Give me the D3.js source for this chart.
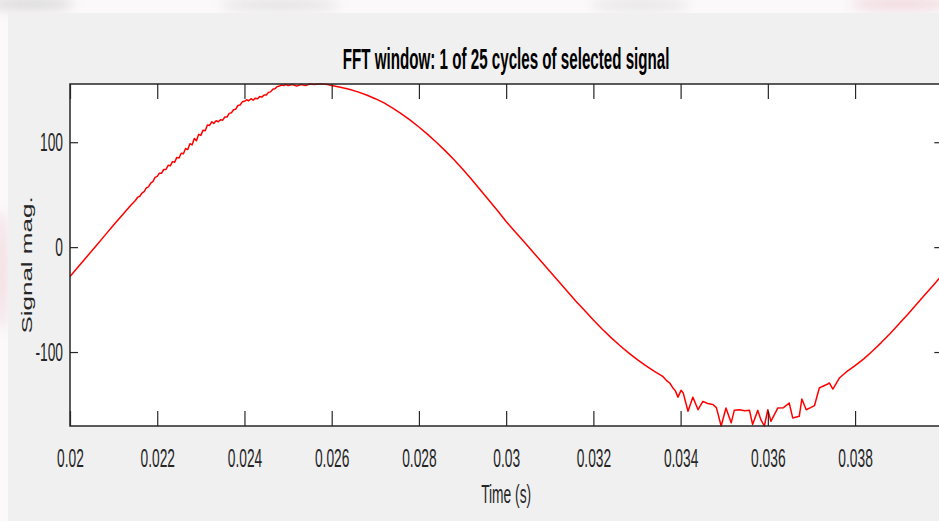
<!DOCTYPE html>
<html><head><meta charset="utf-8">
<script src="https://cdn.jsdelivr.net/npm/d3@7"></script>
<style>
html,body{margin:0;padding:0;background:#fbf9fa;overflow:hidden}
svg{display:block}
</style></head><body>
<svg id="chart" width="939" height="521"></svg>
<script>
// ---------- data ----------
const titleText = "FFT window: 1 of 25 cycles of selected signal";
const xLabelText = "Time (s)";
const yLabelText = "Signal mag.";
const xTicks = [0.02, 0.022, 0.024, 0.026, 0.028, 0.03, 0.032, 0.034, 0.036, 0.038];
const xTickLabels = ["0.02", "0.022", "0.024", "0.026", "0.028", "0.03", "0.032", "0.034", "0.036", "0.038"];
const yTicks = [-100, 0, 100];
const yTickLabels = ["-100", "0", "100"];
const xDomain = [0.02, 0.04];

const timeS = [
  0.0200, 0.0202, 0.0204, 0.0206, 0.0208, 0.0210, 0.0212, 0.0214,
  0.02150, 0.02155, 0.02160, 0.02165, 0.02170, 0.02175, 0.02180, 0.02185, 0.02190, 0.02195,
  0.02200, 0.02205, 0.02210, 0.02215, 0.02220, 0.02225, 0.02230, 0.02235, 0.02240, 0.02245,
  0.02250, 0.02255, 0.02260, 0.02265, 0.02270, 0.02275, 0.02280, 0.02285, 0.02290, 0.02295,
  0.02300, 0.02305, 0.02310, 0.02315, 0.02320, 0.02325, 0.02330, 0.02335, 0.02340, 0.02345,
  0.02350, 0.02355, 0.02360, 0.02365, 0.02370, 0.02375, 0.02380, 0.02385, 0.02390, 0.02395,
  0.02400, 0.02405, 0.02410, 0.02415, 0.02420, 0.02425, 0.02430, 0.02435, 0.02440, 0.02445,
  0.02450, 0.02455, 0.02460, 0.02465, 0.02470, 0.02475, 0.02480, 0.02485, 0.02490, 0.02495,
  0.02500,
  0.0251, 0.0252, 0.0253, 0.0254, 0.0255, 0.0256, 0.0257, 0.0258, 0.0259, 0.0260,
  0.0262, 0.0264, 0.0266, 0.0268, 0.0270, 0.0272, 0.0274, 0.0276, 0.0278, 0.0280,
  0.0282, 0.0284, 0.0286, 0.0288, 0.0290, 0.0292, 0.0294, 0.0296, 0.0298, 0.0300,
  0.0302, 0.0304, 0.0306, 0.0308, 0.0310, 0.0312, 0.0314, 0.0316, 0.0318, 0.0320,
  0.0322, 0.0324, 0.0326, 0.0328, 0.0330, 0.0332, 0.0334,
  0.0336, 0.03365, 0.0337, 0.03375, 0.03382, 0.03388, 0.03394, 0.03401, 0.03406, 0.03417,
  0.03428, 0.0344, 0.03451, 0.03462, 0.03474, 0.03482, 0.03493, 0.03504, 0.03516, 0.03523,
  0.03535, 0.03547, 0.03558, 0.03565, 0.03577, 0.03584, 0.03592, 0.0360, 0.03607, 0.03623,
  0.03636, 0.03649, 0.03657, 0.03672, 0.03678, 0.03688, 0.03698, 0.03707, 0.03718, 0.03725,
  0.03735, 0.03741, 0.03749, 0.03764,
  0.0378, 0.0380, 0.0382, 0.0384, 0.0386, 0.0388, 0.0390, 0.0392, 0.0394, 0.0396, 0.0398, 0.0400
];
const signal = [
  -28, -18.2, -8.4, 1.4, 11.2, 21, 30.6, 40.2,
  44.5, 47.5, 48.5, 51.5, 53, 56.5, 57.5, 61, 62.5, 66.5,
  67.5, 70.5, 70.5, 74, 74, 78, 77.5, 81.5, 81, 85.5,
  85, 89.5, 89, 94, 93, 98.5, 97.5, 103.5, 101.5, 107.5,
  106.5, 111.5, 111, 116.5, 116, 119.5, 118, 120.5, 119.5, 121.5,
  121, 124, 124, 127.5, 128, 131, 131.5, 135, 135.5, 138.5,
  139, 140.5, 139.5, 141.5, 140, 142, 141.5, 143.5, 143, 145,
  145, 147.5, 148, 150.5, 151, 153, 153.5, 154.5, 154, 155,
  154,
  155, 153.5, 155, 154, 155.5, 155, 155.5, 155.5, 155, 154,
  152.5, 150.5, 148, 145, 141.5, 137.5, 132.5, 127, 121, 114.5,
  107.5, 100, 92, 83.5, 74.5, 65, 55, 45, 35, 24.5,
  15, 5.5, -4, -13.5, -23, -32.5, -42, -51.5, -60.5, -69.5,
  -78, -86, -93.5, -100.5, -107, -113, -118.5,
  -123.5, -126, -128, -129.5, -134, -137, -143, -136.5, -139, -156.5,
  -143, -155, -147, -149, -150, -153, -170.5, -153.3, -167.5, -155.6,
  -155, -156, -155.6, -169, -155.6, -164.5, -170.5, -155, -166, -153.3,
  -153, -148.6, -162.8, -161.3, -144.8, -155, -153, -151, -134.3, -132.8,
  -131, -129.5, -135.3, -124.8,
  -119, -113, -106.5, -99, -91, -82.5, -73.5, -64.5, -55, -45.5, -36, -26.5
];

// ---------- layout ----------
const W = 939, H = 521;
const plot = {left: 70, right: 942.3, top: 84, bottom: 426};
const SX = 0.53;            // horizontal text compression seen in the reference
const FONT = "'Liberation Sans', Arial, Helvetica, sans-serif";
const INK = "#262626";

const svg = d3.select("#chart");

// soft blurred backdrop visible around the figure panel
const defs = svg.append("defs");
defs.append("filter").attr("id", "blur").append("feGaussianBlur").attr("stdDeviation", 6);
const deco = svg.append("g").attr("filter", "url(#blur)").attr("opacity", 0.55);
deco.append("ellipse").attr("cx", 30).attr("cy", 4).attr("rx", 45).attr("ry", 6).attr("fill", "#bdbdbd");
deco.append("ellipse").attr("cx", 280).attr("cy", 5).attr("rx", 60).attr("ry", 5).attr("fill", "#c8c8c8");
deco.append("ellipse").attr("cx", 640).attr("cy", 5).attr("rx", 50).attr("ry", 5).attr("fill", "#cfcfcf");
deco.append("ellipse").attr("cx", 900).attr("cy", 4).attr("rx", 50).attr("ry", 6).attr("fill", "#e6b9c4");
deco.append("ellipse").attr("cx", 2).attr("cy", 270).attr("rx", 6).attr("ry", 60).attr("fill", "#eac3cc");

// figure panel
svg.append("rect").attr("x", 8).attr("y", 13).attr("width", W).attr("height", H)
  .attr("fill", "#f0f0f0");

// axes background
svg.append("rect").attr("x", plot.left).attr("y", plot.top)
  .attr("width", plot.right - plot.left).attr("height", plot.bottom - plot.top)
  .attr("fill", "#ffffff");

const x = d3.scaleLinear().domain(xDomain).range([plot.left, plot.right]);
const y = d3.scaleLinear().domain(d3.extent(signal)).range([plot.bottom, plot.top]);

// line
const pts = timeS.map((t, i) => [t, signal[i]]);
svg.append("path")
  .datum(pts)
  .attr("fill", "none")
  .attr("stroke", "#ff0000")
  .attr("stroke-width", 1.5)
  .attr("stroke-linejoin", "round")
  .attr("d", d3.line().x(d => x(d[0])).y(d => y(d[1])));

// axes
function styleAxis(g) {
  g.select(".domain").remove();
  g.selectAll(".tick line").attr("stroke", INK).attr("stroke-width", 1.2);
  g.selectAll("text").attr("fill", INK).style("font-family", FONT).style("font-size", "26px");
}
const gB = svg.append("g").attr("transform", `translate(0,${plot.bottom})`)
  .call(d3.axisBottom(x).tickValues(xTicks).tickFormat((d, i) => xTickLabels[i])
    .tickSizeInner(-15).tickSizeOuter(0).tickPadding(22.5));
styleAxis(gB);
gB.selectAll("text").attr("transform", `scale(${SX},1)`);

const gT = svg.append("g").attr("transform", `translate(0,${plot.top})`)
  .call(d3.axisTop(x).tickValues(xTicks).tickFormat("").tickSizeInner(-15).tickSizeOuter(0));
styleAxis(gT);

const gL = svg.append("g").attr("transform", `translate(${plot.left},0)`)
  .call(d3.axisLeft(y).tickValues(yTicks).tickFormat((d, i) => yTickLabels[i])
    .tickSizeInner(-8).tickSizeOuter(0).tickPadding(7));
styleAxis(gL);
gL.selectAll("text").attr("x", null).attr("transform", `translate(-7,0) scale(${SX},1)`);

const gR = svg.append("g").attr("transform", `translate(${plot.right},0)`)
  .call(d3.axisRight(y).tickValues(yTicks).tickFormat("").tickSizeInner(-8).tickSizeOuter(0));
styleAxis(gR);

// box
svg.append("rect").attr("x", plot.left).attr("y", plot.top)
  .attr("width", plot.right - plot.left).attr("height", plot.bottom - plot.top)
  .attr("fill", "none").attr("stroke", INK).attr("stroke-width", 1.5);

// title and labels
svg.append("text").text(titleText)
  .attr("transform", `translate(${(plot.left + plot.right) / 2},69) scale(${SX},1)`)
  .attr("text-anchor", "middle").attr("fill", "#000")
  .style("font-family", FONT).style("font-weight", "bold").style("font-size", "28.6px");

svg.append("text").text(xLabelText)
  .attr("transform", `translate(${(plot.left + plot.right) / 2},503) scale(${SX},1)`)
  .attr("text-anchor", "middle").attr("fill", INK)
  .style("font-family", FONT).style("font-size", "26px");

svg.append("text").text(yLabelText)
  .attr("transform", `translate(31.5,265) scale(${SX},1) rotate(-90)`)
  .attr("text-anchor", "middle").attr("fill", INK)
  .style("font-family", FONT).style("font-size", "26px");
</script>
</body></html>
